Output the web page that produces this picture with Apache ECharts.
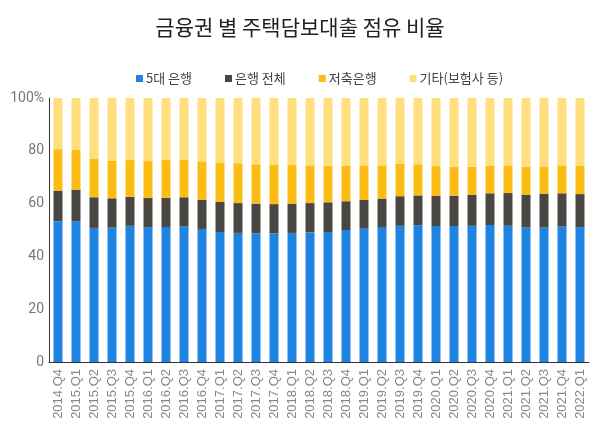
<!DOCTYPE html>
<html>
<head>
<meta charset="utf-8">
<script src="https://cdn.jsdelivr.net/npm/echarts@6/dist/echarts.min.js"></script>
<style>html,body{margin:0;padding:0;background:#fff}#c{width:600px;height:432px}</style>
</head>
<body>
<div id="c"></div>
<script>
var categories = ['2014.Q4','2015.Q1','2015.Q2','2015.Q3','2015.Q4','2016.Q1','2016.Q2','2016.Q3','2016.Q4','2017.Q1','2017.Q2','2017.Q3','2017.Q4','2018.Q1','2018.Q2','2018.Q3','2018.Q4','2019.Q1','2019.Q2','2019.Q3','2019.Q4','2020.Q1','2020.Q2','2020.Q3','2020.Q4','2021.Q1','2021.Q2','2021.Q3','2021.Q4','2022.Q1'];
var big5 = [53.3,53.3,50.8,50.9,51.6,51.0,51.1,51.4,50.4,49.2,48.9,48.7,48.7,48.9,49.1,49.2,50.0,50.5,51.1,51.6,51.8,51.5,51.5,51.6,51.9,51.6,51.0,51.0,51.3,51.0];
var banksAll = [11.6,12.0,11.6,11.1,11.0,11.1,11.1,11.0,11.1,11.4,11.3,11.3,11.1,11.1,11.1,11.3,10.9,10.9,10.8,11.2,11.3,11.4,11.5,11.8,12.0,12.4,12.4,12.8,12.6,12.6];
var savings = [15.7,15.0,14.5,14.3,13.9,14.0,14.3,14.1,14.5,14.8,15.1,14.9,14.9,14.6,14.3,13.9,13.5,13.1,12.6,12.2,11.8,11.3,11.0,10.6,10.5,10.5,10.5,10.3,10.6,10.8];
var others = [19.4,19.7,23.1,23.7,23.5,23.9,23.5,23.5,24.0,24.6,24.7,25.1,25.3,25.4,25.5,25.6,25.6,25.5,25.5,25.0,25.1,25.8,26.0,26.0,25.6,25.5,26.1,25.9,25.5,25.6];
var seriesNames = ['5대 은행','은행 전체','저축은행','기타(보험사 등)'];
var yTicks = [0,20,40,60,80,100];

var colors = ['#1F84E0','#4A4642','#FBBD14','#FEDF7C'];
var chart = echarts.init(document.getElementById('c'), null, {renderer:'canvas'});
var dataSets = [big5, banksAll, savings, others];
var series = seriesNames.map(function(n,i){
  return {name:n,type:'bar',stack:'s',data:dataSets[i],barWidth:9,itemStyle:{color:colors[i]}};
});
chart.setOption({
  animation:false,
  backgroundColor:'#fff',
  color:colors,
  title:{text:'금융권 별 주택담보대출 점유 비율',left:'center',top:12,
    textStyle:{fontFamily:'Noto Sans CJK KR',fontSize:21,fontWeight:'normal',color:'#222'}},
  legend:{left:131,top:67,icon:'rect',itemWidth:7,itemHeight:7,itemGap:33,
    textStyle:{fontFamily:'Noto Sans CJK KR',fontSize:13,color:'#444',padding:[0,0,0,-2]},
    data:seriesNames},
  grid:{left:49,right:11,top:98,bottom:70,containLabel:false},
  xAxis:{type:'category',data:categories,
    axisLine:{lineStyle:{color:'#333',width:1}},axisTick:{show:false},
    axisLabel:{rotate:90,interval:0,fontFamily:'Liberation Sans',fontSize:13,color:'#888',margin:7}},
  yAxis:{type:'value',min:0,max:100,interval:20,
    axisLine:{show:true,lineStyle:{color:'#333',width:1}},axisTick:{show:false},splitLine:{show:false},
    axisLabel:{fontFamily:'Roboto',fontSize:14,color:'#777',margin:5,
      formatter:function(v){return yTicks.indexOf(v)>=0?(v===100?'100%':String(v)):'';}}},
  series:series
});
</script>
</body>
</html>
